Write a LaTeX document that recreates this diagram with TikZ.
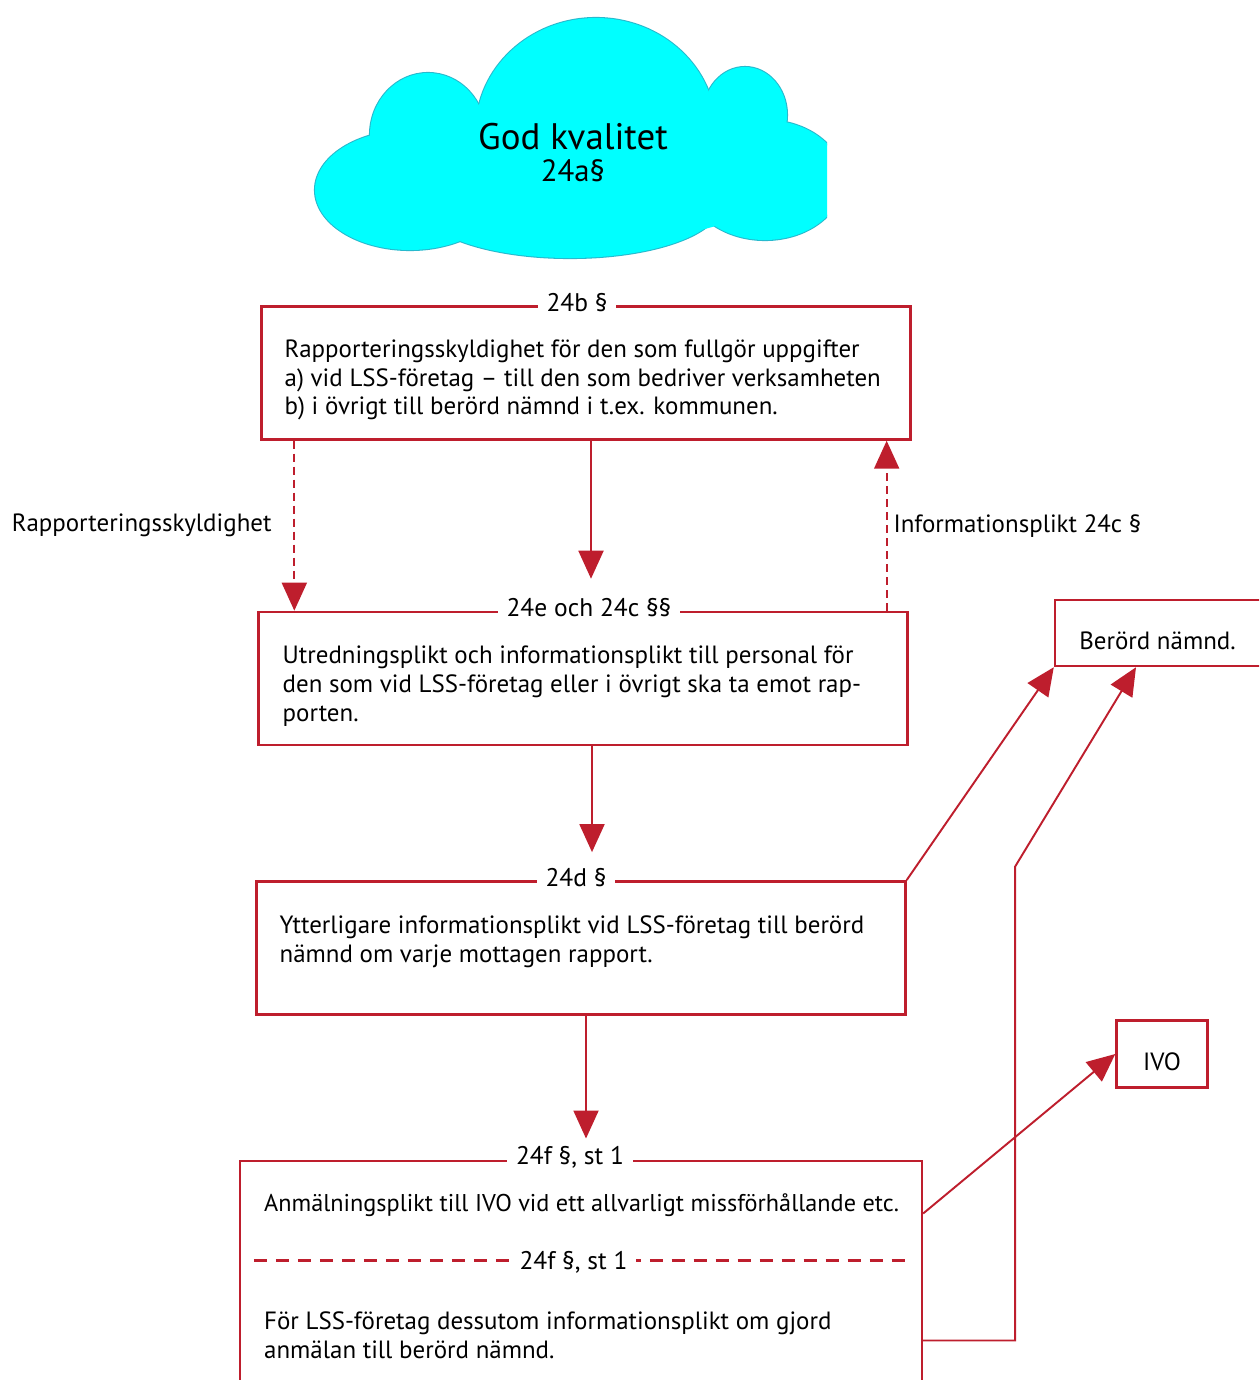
\documentclass[tikz,border=0pt]{standalone}
\usepackage{fontspec}
\setmainfont{PT Sans}
\usepackage{tikz}
\usetikzlibrary{calc,arrows.meta,positioning}
\usepackage{xcolor}
\definecolor{lssred}{RGB}{190,30,45}
\definecolor{cloudfill}{RGB}{0,255,255}
\definecolor{cloudedge}{RGB}{40,185,205}

\begin{document}
\begin{tikzpicture}
[x=0.02cm, y=-0.02cm, >={Triangle[length=0.56cm, width=0.5cm]},
line/.style={draw=lssred, line width=1.1pt}, dline/.style={line, dash pattern=on 0.16cm off 0.1cm},
border/.style={draw=lssred, line width=1.4pt},
every node/.style={font=\fontsize{14.2}{16.4}\selectfont}]
% Define styles for blocks, titles and texts
\tikzstyle{block} = [rectangle, border, minimum width=12.98cm, minimum height=2.66cm]
\tikzstyle{title} = [fill=white, inner xsep=5pt, inner ysep=1pt, yshift=1.5pt, font=\fontsize{14.5}{16}\selectfont]
\tikzstyle{body} = [anchor=north west, inner sep=0pt, align=left]
\tikzstyle{smallbox} = [rectangle, border, text height=2em, text depth=0.1em]

\clip (0,0) rectangle (1259,1380);

% Cloud
\begin{scope}
\clip (0,0) rectangle (827,275);
\foreach \cx/\cy/\rx/\ry in {596/130/120/112, 428/135/58/62, 745/115/42/48, 410/190/95/60, 765/180/78/60, 570/205/150/53}
  \draw[cloudedge, line width=1.2pt] (\cx,\cy) ellipse [x radius=\rx, y radius=\ry];
\foreach \cx/\cy/\rx/\ry in {596/130/120/112, 428/135/58/62, 745/115/42/48, 410/190/95/60, 765/180/78/60, 570/205/150/53, 590/170/200/72}
  \fill[cloudfill] (\cx,\cy) ellipse [x radius=\rx, y radius=\ry];
\end{scope}
\node[font=\fontsize{21}{24}\selectfont] (god) at (573,137) {God kvalitet};
\node[font=\fontsize{17.5}{20}\selectfont] (par) at (573,171) {24a§};

% Nodes placement
\node [block] (box1) at (586,373) {};
\node [block, below=3.40cm of box1, xshift=-0.06cm] (box2) {};
\node [block, below=2.68cm of box2, xshift=-0.04cm] (box3) {};
\node [block, below=2.88cm of box3, minimum width=13.64cm, minimum height=4.6cm] (box4) {};
\node [smallbox, minimum width=4.4cm, minimum height=1.32cm] (ber) at (1165,633) {\hspace*{-0.3cm}Berörd nämnd.};
\node [smallbox, minimum width=1.82cm, minimum height=1.34cm] (ivo) at (1162,1054) {IVO};

\node [title] (t1) at ([xshift=-0.18cm]box1.north) {24b §};
\node [title] (t2) at ([xshift=0.12cm]box2.north) {24e och 24c §§};
\node [title] (t3) at ([xshift=-0.1cm]box3.north) {24d §};
\node [title] (t4) at ([xshift=-0.22cm]box4.north) {24f §, st 1};

\node [body] (txt1) at ($(box1.north west)+(24,34)$) {Rapporteringsskyldighet för den som fullgör uppgifter\\a) vid LSS-företag – till den som bedriver verksamheten\\b) i övrigt till berörd nämnd i t.ex. kommunen.};
\node [body] (txt2) at ($(box2.north west)+(25,35)$) {Utredningsplikt och informationsplikt till personal för\\den som vid LSS-företag eller i övrigt ska ta emot rap-\\porten.};
\node [body] (txt3) at ($(box3.north west)+(24,35)$) {Ytterligare informationsplikt vid LSS-företag till berörd\\nämnd om varje mottagen rapport.};
\node [body, font=\fontsize{13.8}{16.4}\selectfont] (txt4) at ($(box4.north west)+(25,34)$) {Anmälningsplikt till IVO vid ett allvarligt missförhållande etc.};
\node [body] (txt5) at ($(box4.north west)+(25,152)$) {För LSS-företag dessutom informationsplikt om gjord\\anmälan till berörd nämnd.};

% Dashed divider inside the last block
\draw[border, dash pattern=on 0.26cm off 0.18cm] ($(box4.north west)+(15,101)$) -- node[title, pos=0.49, yshift=-2.5pt] (t5) {24f §, st 1} ($(box4.north east)+(-17,101)$);

% Helper coordinates
\coordinate (tip2) at ($(box1.south)+(5,138)$);
\coordinate (tip4) at ($(box2.south)+(9,106)$);
\coordinate (tip5) at ($(box3.south)+(5,123)$);
\coordinate (left1) at ([xshift=0.68cm]box1.south west);
\coordinate (right2) at ([xshift=-0.44cm]box2.north east);
\coordinate (k1) at ($(box4.north east)+(92,181)$);
\coordinate (k2) at ($(k1)+(0,-474)$);
\coordinate (k3) at ($(box4.north east)+(0,54)$);

% Draw edges
\draw[dline,->] (left1) -- node[left, xshift=-0.32cm] {Rapporteringsskyldighet} (left1 |- box2.north);
\draw[line,->] (box1.south -| tip2) -- (tip2);
\draw[dline,->] (right2) -- node[right] {Informationsplikt 24c §} (right2 |- box1.south);
\draw[line,->] (box2.south -| tip4) -- (tip4);
\draw[line,->] (box3.south -| tip5) -- (tip5);
\draw[line,->] (box3.north east) -- (ber.south west);
\draw[line,->] (box4.east |- k1) -- (k1) -- (k2) -- ([xshift=-0.58cm]ber.south);
\draw[line,->] (k3) -- (ivo.west);
\end{tikzpicture}
\end{document}
